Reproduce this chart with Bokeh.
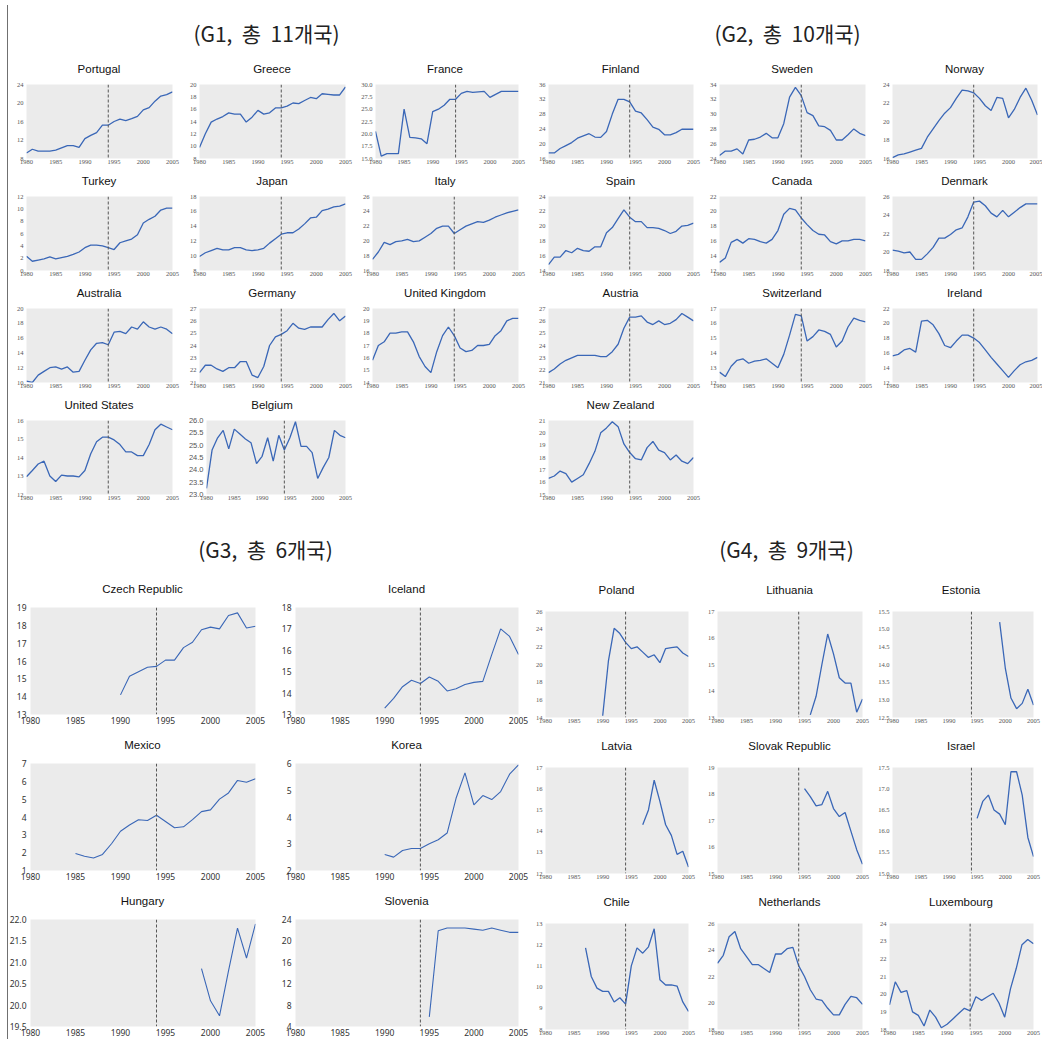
from bokeh.plotting import figure
from bokeh.layouts import column, row
from bokeh.models import Range1d, FixedTicker, Span, Div, Spacer, NumeralTickFormatter
from bokeh.embed import file_html
from bokeh.resources import INLINE

years = list(range(1980, 2006))
x_ticks = [1980, 1985, 1990, 1995, 2000, 2005]
break_year = 1994
group_titles = ["(G1,  총  11개국)", "(G2,  총  10개국)", "(G3,  총  6개국)", "(G4,  총  9개국)"]

# ---- G1 ----
portugal = [9.2, 10.0, 9.6, 9.6, 9.6, 9.8, 10.3, 10.8, 10.8, 10.4, 12.3, 13.0, 13.6, 15.2, 15.2, 16.0, 16.5, 16.2, 16.6, 17.1, 18.5, 19.0, 20.4, 21.5, 21.8, 22.4]
greece = [9.8, 12.0, 13.9, 14.4, 14.8, 15.4, 15.2, 15.2, 13.9, 14.7, 15.8, 15.2, 15.4, 16.2, 16.2, 16.5, 17.0, 16.9, 17.4, 17.9, 17.7, 18.5, 18.4, 18.3, 18.3, 19.6]
france = [20.5, 15.5, 16.0, 16.0, 16.0, 25.0, 19.3, 19.2, 19.0, 18.0, 24.5, 25.0, 25.8, 27.0, 27.0, 28.2, 28.6, 28.4, 28.5, 28.6, 27.4, 28.0, 28.6, 28.6, 28.6, 28.6]
turkey = [2.3, 1.5, 1.7, 1.9, 2.2, 1.9, 2.1, 2.3, 2.6, 3.0, 3.7, 4.1, 4.1, 4.0, 3.7, 3.4, 4.5, 4.8, 5.1, 5.8, 7.7, 8.3, 8.8, 9.8, 10.1, 10.1]
japan = [9.9, 10.4, 10.7, 11.0, 10.8, 10.8, 11.1, 11.1, 10.8, 10.7, 10.8, 11.0, 11.7, 12.3, 12.9, 13.1, 13.1, 13.6, 14.3, 15.1, 15.2, 16.1, 16.3, 16.6, 16.7, 17.0]
italy = [17.5, 18.5, 19.8, 19.5, 19.9, 20.0, 20.2, 19.9, 20.0, 20.5, 21.0, 21.7, 22.0, 22.0, 21.0, 21.5, 22.0, 22.3, 22.6, 22.5, 22.8, 23.2, 23.5, 23.8, 24.0, 24.2]
australia = [10.2, 10.0, 11.0, 11.5, 12.0, 12.1, 11.8, 12.1, 11.4, 11.5, 13.0, 14.4, 15.3, 15.4, 15.1, 16.8, 16.9, 16.6, 17.5, 17.2, 18.2, 17.5, 17.2, 17.5, 17.2, 16.6]
germany = [21.8, 22.4, 22.4, 22.1, 21.9, 22.2, 22.2, 22.7, 22.7, 21.6, 21.4, 22.3, 24.0, 24.7, 24.9, 25.2, 25.8, 25.4, 25.3, 25.5, 25.5, 25.5, 26.1, 26.6, 26.0, 26.4]
united_kingdom = [15.8, 17.0, 17.3, 18.0, 18.0, 18.1, 18.1, 17.3, 16.1, 15.3, 14.8, 16.5, 17.8, 18.5, 17.8, 16.8, 16.5, 16.6, 17.0, 17.0, 17.1, 17.8, 18.2, 19.0, 19.2, 19.2]
united_states = [12.96, 13.3, 13.65, 13.8, 13.0, 12.7, 13.05, 13.0, 13.0, 12.95, 13.3, 14.2, 14.85, 15.1, 15.1, 14.95, 14.7, 14.3, 14.3, 14.1, 14.1, 14.7, 15.5, 15.8, 15.65, 15.5]
belgium = [23.25, 24.8, 25.3, 25.6, 24.85, 25.65, 25.45, 25.25, 25.1, 24.25, 24.55, 25.3, 24.35, 25.4, 24.8, 25.3, 25.95, 24.95, 24.95, 24.7, 23.65, 24.1, 24.5, 25.6, 25.4, 25.3]

# ---- G2 ----
finland = [17.5, 17.5, 18.7, 19.5, 20.3, 21.5, 22.1, 22.7, 21.8, 21.7, 23.3, 28.0, 32.0, 32.0, 31.3, 28.8, 28.3, 26.5, 24.5, 23.9, 22.4, 22.4, 23.0, 23.9, 23.9, 23.9]
sweden = [24.4, 25.0, 25.0, 25.3, 24.6, 26.5, 26.6, 26.9, 27.4, 26.8, 26.8, 28.7, 32.3, 33.6, 32.5, 30.2, 29.8, 28.4, 28.3, 27.8, 26.5, 26.5, 27.2, 28.0, 27.4, 27.1]
norway = [16.1, 16.4, 16.5, 16.7, 16.9, 17.1, 18.3, 19.2, 20.1, 20.9, 21.5, 22.5, 23.4, 23.3, 23.1, 22.5, 21.7, 21.2, 22.6, 22.5, 20.4, 21.3, 22.6, 23.6, 22.3, 20.7]
spain = [14.8, 15.8, 15.8, 16.7, 16.4, 17.0, 16.7, 16.6, 17.2, 17.2, 19.1, 19.8, 21.0, 22.2, 21.2, 20.6, 20.6, 19.8, 19.8, 19.7, 19.4, 19.0, 19.3, 20.0, 20.1, 20.4]
canada = [13.1, 13.7, 15.8, 16.2, 15.7, 16.3, 16.2, 15.9, 15.7, 16.2, 17.4, 19.6, 20.4, 20.2, 19.1, 18.2, 17.4, 16.9, 16.8, 15.9, 15.6, 16.0, 16.0, 16.2, 16.2, 16.0]
denmark = [20.2, 20.1, 19.9, 20.0, 19.2, 19.2, 19.8, 20.5, 21.5, 21.5, 21.9, 22.4, 22.6, 23.8, 25.4, 25.5, 25.0, 24.2, 23.8, 24.5, 23.8, 24.3, 24.8, 25.2, 25.2, 25.2]
austria = [21.8, 22.1, 22.5, 22.8, 23.0, 23.2, 23.2, 23.2, 23.2, 23.1, 23.1, 23.5, 24.1, 25.4, 26.3, 26.3, 26.4, 25.9, 25.7, 26.0, 25.7, 25.8, 26.1, 26.6, 26.3, 26.0]
switzerland = [12.7, 12.4, 13.1, 13.5, 13.6, 13.3, 13.45, 13.5, 13.6, 13.3, 13.0, 13.9, 15.2, 16.6, 16.5, 14.8, 15.1, 15.55, 15.45, 15.25, 14.4, 14.8, 15.75, 16.35, 16.2, 16.1]
ireland = [15.6, 15.8, 16.4, 16.6, 16.1, 20.3, 20.4, 19.8, 18.6, 17.0, 16.7, 17.6, 18.4, 18.4, 18.0, 17.4, 16.4, 15.4, 14.5, 13.6, 12.7, 13.6, 14.4, 14.8, 15.0, 15.4]
new_zealand = [16.3, 16.5, 16.9, 16.7, 16.0, 16.3, 16.6, 17.5, 18.5, 20.0, 20.4, 20.9, 20.5, 19.1, 18.4, 17.9, 17.8, 18.8, 19.3, 18.6, 18.4, 17.8, 18.2, 17.7, 17.5, 18.0]

# ---- G3 (series start later) ----
czech = [14.1, 15.15, 15.4, 15.65, 15.7, 16.05, 16.05, 16.75, 17.05, 17.75, 17.9, 17.8, 18.55, 18.7, 17.85, 17.95]  # from 1990
iceland = [13.3, 13.75, 14.3, 14.6, 14.45, 14.75, 14.55, 14.1, 14.2, 14.4, 14.5, 14.55, 15.8, 17.0, 16.65, 15.8]  # from 1990
mexico = [1.95, 1.8, 1.7, 1.9, 2.5, 3.2, 3.55, 3.85, 3.8, 4.1, 3.75, 3.4, 3.45, 3.85, 4.3, 4.4, 5.0, 5.35, 6.05, 5.95, 6.15]  # from 1985
korea = [2.6, 2.5, 2.75, 2.82, 2.82, 3.0, 3.15, 3.4, 4.7, 5.65, 4.45, 4.8, 4.65, 4.95, 5.6, 5.95]  # from 1990
hungary = [20.85, 20.1, 19.75, 20.8, 21.8, 21.1, 21.9]  # from 1999
slovenia = [5.8, 21.9, 22.4, 22.4, 22.4, 22.2, 22.0, 22.4, 22.0, 21.6, 21.6]  # from 1995

# ---- G4 ----
poland = [14.2, 20.4, 24.1, 23.5, 22.5, 21.8, 22.0, 21.4, 20.8, 21.1, 20.2, 21.8, 21.9, 22.0, 21.3, 20.9]  # from 1990
lithuania = [13.1, 13.8, 15.0, 16.15, 15.4, 14.5, 14.3, 14.3, 13.2, 13.7]  # from 1996
estonia = [15.2, 13.9, 13.05, 12.75, 12.9, 13.3, 12.85]  # from 1999
latvia = [14.3, 15.0, 16.4, 15.4, 14.3, 13.8, 12.9, 13.05, 12.3]  # from 1997
slovak = [18.2, 17.9, 17.55, 17.6, 18.1, 17.45, 17.15, 17.3, 16.6, 15.9, 15.35]  # from 1995
israel = [16.3, 16.7, 16.85, 16.5, 16.4, 16.15, 17.4, 17.4, 16.85, 15.85, 15.4]  # from 1995
chile = [11.85, 10.5, 9.95, 9.8, 9.8, 9.3, 9.5, 9.2, 11.0, 11.85, 11.6, 11.9, 12.75, 10.35, 10.1, 10.1, 10.05, 9.3, 8.85]  # from 1987
netherlands = [23.0, 23.6, 25.0, 25.4, 24.1, 23.5, 22.9, 22.9, 22.6, 22.3, 23.7, 23.7, 24.1, 24.2, 22.8, 22.0, 21.0, 20.3, 20.2, 19.6, 19.1, 19.1, 19.9, 20.5, 20.4, 19.9]
luxembourg = [19.4, 20.7, 20.1, 20.2, 19.0, 18.8, 18.2, 19.1, 18.7, 18.1, 18.3, 18.6, 18.9, 19.2, 19.05, 19.85, 19.65, 19.85, 20.05, 19.5, 18.7, 20.3, 21.45, 22.8, 23.1, 22.85]

# (title, first year, values, y tick labels)
rows_top = [
    [("Portugal", 1980, portugal, [8, 12, 16, 20, 24]),
     ("Greece", 1980, greece, [8, 10, 12, 14, 16, 18, 20]),
     ("France", 1980, france, [15.0, 17.5, 20.0, 22.5, 25.0, 27.5, 30.0]),
     ("Finland", 1980, finland, [16, 20, 24, 28, 32, 36]),
     ("Sweden", 1980, sweden, [24, 26, 28, 30, 32, 34]),
     ("Norway", 1980, norway, [16, 18, 20, 22, 24])],
    [("Turkey", 1980, turkey, [0, 2, 4, 6, 8, 10, 12]),
     ("Japan", 1980, japan, [8, 10, 12, 14, 16, 18]),
     ("Italy", 1980, italy, [16, 18, 20, 22, 24, 26]),
     ("Spain", 1980, spain, [14, 16, 18, 20, 22, 24]),
     ("Canada", 1980, canada, [12, 14, 16, 18, 20, 22]),
     ("Denmark", 1980, denmark, [18, 20, 22, 24, 26])],
    [("Australia", 1980, australia, [10, 12, 14, 16, 18, 20]),
     ("Germany", 1980, germany, [21, 22, 23, 24, 25, 26, 27]),
     ("United Kingdom", 1980, united_kingdom, [14, 15, 16, 17, 18, 19, 20]),
     ("Austria", 1980, austria, [21, 22, 23, 24, 25, 26, 27]),
     ("Switzerland", 1980, switzerland, [12, 13, 14, 15, 16, 17]),
     ("Ireland", 1980, ireland, [12, 14, 16, 18, 20, 22])],
    [("United States", 1980, united_states, [12, 13, 14, 15, 16]),
     ("Belgium", 1980, belgium, [23.0, 23.5, 24.0, 24.5, 25.0, 25.5, 26.0]),
     None,
     ("New Zealand", 1980, new_zealand, [15, 16, 17, 18, 19, 20, 21]),
     None, None],
]
rows_bottom = [
    [("Czech Republic", 1990, czech, [13, 14, 15, 16, 17, 18, 19]),
     ("Iceland", 1990, iceland, [13, 14, 15, 16, 17, 18]),
     ("Poland", 1990, poland, [14, 16, 18, 20, 22, 24, 26]),
     ("Lithuania", 1996, lithuania, [13, 14, 15, 16, 17]),
     ("Estonia", 1999, estonia, [12.5, 13.0, 13.5, 14.0, 14.5, 15.0, 15.5])],
    [("Mexico", 1985, mexico, [1, 2, 3, 4, 5, 6, 7]),
     ("Korea", 1990, korea, [2, 3, 4, 5, 6]),
     ("Latvia", 1997, latvia, [12, 13, 14, 15, 16, 17]),
     ("Slovak Republic", 1995, slovak, [15, 16, 17, 18, 19]),
     ("Israel", 1995, israel, [15.0, 15.5, 16.0, 16.5, 17.0, 17.5])],
    [("Hungary", 1999, hungary, [19.5, 20.0, 20.5, 21.0, 21.5, 22.0]),
     ("Slovenia", 1995, slovenia, [4, 8, 12, 16, 20, 24]),
     ("Chile", 1987, chile, [8, 9, 10, 11, 12, 13]),
     ("Netherlands", 1980, netherlands, [18, 20, 22, 24, 26]),
     ("Luxembourg", 1980, luxembourg, [18, 19, 20, 21, 22, 23, 24])],
]

LINE = "#3a67b7"
BG = "#ebebeb"

# column geometry: (width, left border, right border)
top_cols = [(185, 26, 13), (173, 14, 13), (175, 14, 15), (173, 15, 13), (172, 13, 13), (164, 14, 5)]
bot_cols = [(275, 30, 20), (256, 20, 13), (171, 14, 14), (173, 15, 13), (167, 14, 9)]


def panel(spec, w, left, right, h, head, pad, bottom, big):
    name, start, vals, yt = spec
    i0 = years.index(start)
    xs = years[i0:i0 + len(vals)]
    p = figure(width=w, height=h - head, x_range=Range1d(1980, 2005), y_range=Range1d(yt[0], yt[-1]),
               output_backend="svg", toolbar_location=None,
               min_border_left=left, min_border_right=right, min_border_top=4, min_border_bottom=bottom)
    p.background_fill_color = BG
    p.border_fill_color = None
    p.outline_line_color = None
    p.grid.visible = False
    p.line(xs, vals, line_color=LINE, line_width=1.3 if not big else 1.1)
    p.add_layout(Span(location=break_year, dimension="height", line_color="#555555",
                      line_dash="3 2", line_width=1))
    p.xaxis.ticker = FixedTicker(ticks=x_ticks)
    p.yaxis.ticker = FixedTicker(ticks=yt)
    if any(float(t) != int(t) for t in yt) or name in ("France", "Belgium"):
        p.yaxis.formatter = NumeralTickFormatter(format="0.0")
    else:
        p.yaxis.formatter = NumeralTickFormatter(format="0")
    p.xaxis.formatter = NumeralTickFormatter(format="0")
    for ax in (p.xaxis[0], p.yaxis[0]):
        ax.axis_line_color = None
        ax.major_tick_line_color = None
        ax.minor_tick_line_color = None
        ax.major_tick_out = 0
        ax.major_tick_in = 0
        if big:
            ax.major_label_text_font = "Noto Sans"
            ax.major_label_text_font_size = "8.5px"
            ax.major_label_text_color = "#333333"
        else:
            ax.major_label_text_font = "Liberation Sans Narrow"
            ax.major_label_text_font_size = "6.5px"
            ax.major_label_text_color = "#555555"
    p.xaxis.major_label_standoff = 1 if not big else 2
    p.yaxis.major_label_standoff = 3 if not big else 4
    if name == "Belgium":
        p.yaxis.major_label_text_font = "Liberation Sans"
        p.yaxis.major_label_text_font_size = "7.5px"
    fw = w - left - right
    t = Div(text=f'<div style="margin-left:{left}px;width:{fw}px;text-align:center;padding-top:{pad}px;'
                 f'font-family:\'Liberation Sans\';font-size:11.5px;line-height:12px;color:#111;'
                 f'white-space:nowrap;">{name}</div>', width=w, height=head, margin=(0, 0, 0, 0))
    return column(t, p, spacing=0)


def title_div(text, w, h, pad):
    return Div(text=f'<div style="text-align:center;width:{w}px;padding-top:{pad}px;'
                    f'font-family:\'Noto Sans CJK KR\';font-size:21px;line-height:30px;color:#222;'
                    f'white-space:pre;">{text}</div>', width=w, height=h, margin=(0, 0, 0, 0))


items = []
items.append(row(title_div(group_titles[0], 533, 54, 18),
                 title_div(group_titles[1], 509, 54, 18)))
for r in rows_top:
    figs = []
    for spec, (w, l, rr) in zip(r, top_cols):
        if spec is None:
            figs.append(Spacer(width=w, height=112, margin=(0, 0, 0, 0)))
        else:
            figs.append(panel(spec, w, l, rr, 112, 26, 9, 8, False))
    items.append(row(*figs))
items.append(row(title_div(group_titles[2], 531, 69, 32),
                 title_div(group_titles[3], 511, 69, 32)))
for r in rows_bottom:
    figs = []
    for k, (spec, (w, l, rr)) in enumerate(zip(r, bot_cols)):
        if k < 2:
            figs.append(panel(spec, w, l, rr, 156, 32, 12, 13, True))
        else:
            figs.append(panel(spec, w, l, rr, 156, 36, 13, 10, False))
    items.append(row(*figs))

layout = column(*items, styles={"background": "linear-gradient(#707070, #707070) no-repeat 7px 5px / 1px calc(100% - 5px)"})
open("out.html", "w").write(file_html(layout, INLINE))
